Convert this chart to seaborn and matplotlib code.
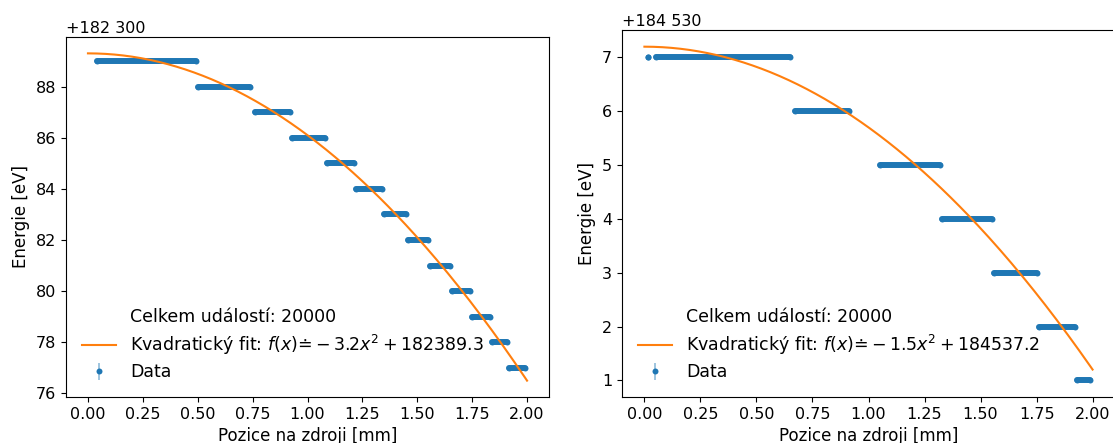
import numpy as np
import seaborn as sns
import matplotlib
matplotlib.use("Agg")
import matplotlib.pyplot as plt
from matplotlib.ticker import ScalarFormatter

# ---- data -------------------------------------------------------------
total_events = 20000

# Left source: quantised energy levels [eV] and the position span [mm] of each level
levels_a = [182389, 182388, 182387, 182386, 182385, 182384, 182383,
            182382, 182381, 182380, 182379, 182378, 182377]
starts_a = [0.04, 0.50, 0.76, 0.93, 1.09, 1.22, 1.35, 1.46, 1.56, 1.66, 1.75, 1.84, 1.92]
ends_a   = [0.49, 0.74, 0.92, 1.08, 1.21, 1.34, 1.45, 1.55, 1.65, 1.74, 1.83, 1.91, 1.99]
fit_a = (-3.2, 182389.3)          # f(x) = a*x^2 + c
offset_a = 182300

# Right source (first entry is a lone event just before the first run)
levels_b = [184537, 184537, 184536, 184535, 184534, 184533, 184532, 184531]
starts_b = [0.015, 0.05, 0.67, 1.05, 1.33, 1.56, 1.76, 1.93]
ends_b   = [0.015, 0.65, 0.915, 1.32, 1.55, 1.75, 1.92, 1.99]
fit_b = (-1.5, 184537.2)
offset_b = 184530

x_label = "Pozice na zdroji [mm]"
y_label = "Energie [eV]"


class SpacedOffsetFormatter(ScalarFormatter):
    """Fixed offset printed with a space as the thousands separator."""
    def get_offset(self):
        return "+" + f"{int(self.offset):,}".replace(",", " ")


def draw_panel(ax, levels, starts, ends, fit, offset):
    blue, orange = "#1f77b4", "#ff7f0e"
    # each level is a dense run of events: draw it as a thick rounded bar
    ax.hlines(levels, starts, ends, color=blue, lw=4.3, capstyle="round", zorder=2)
    xs = np.ravel(np.column_stack([starts, ends]))
    ys = np.repeat(levels, 2)
    eb = ax.errorbar(xs, ys, yerr=0.0, fmt="o", ms=4.3, mew=0, color=blue,
                     ecolor=blue, elinewidth=1.2, label="Data", zorder=2)
    eb.lines[2][0].set_alpha(0.5)

    a, c = fit
    xf = np.linspace(0, 2, 200)
    fit_label = f"Kvadratický fit: $f(x)≐-{abs(a):.1f}x^2+{c:.1f}$"
    sns.lineplot(x=xf, y=a * xf ** 2 + c, ax=ax, color=orange, lw=1.5, zorder=3,
                 label=fit_label)
    count_label = f"Celkem událostí: {total_events}"
    ax.plot([], [], " ", label=count_label)

    handles, labels = ax.get_legend_handles_labels()
    order = [labels.index(l) for l in (count_label, fit_label, "Data")]
    ax.legend([handles[i] for i in order], [labels[i] for i in order],
              loc="lower left", frameon=False, fontsize=12.5, labelspacing=0.38)

    fmt = SpacedOffsetFormatter(useOffset=offset)
    ax.yaxis.set_major_formatter(fmt)
    ax.yaxis.get_offset_text().set_fontsize(11.5)
    ax.set_xticks(np.arange(0, 2.01, 0.25))
    ax.set_xlabel(x_label, fontsize=12)
    ax.set_ylabel(y_label, fontsize=12)
    ax.tick_params(labelsize=11.5)


fig = plt.figure(figsize=(11.13, 4.43), dpi=100)
W, H = 1113, 443
ax1 = fig.add_axes([66 / W, 1 - 397 / H, 483 / W, 360 / H])
ax2 = fig.add_axes([622 / W, 1 - 397 / H, 493 / W, 367 / H])

draw_panel(ax1, levels_a, starts_a, ends_a, fit_a, offset_a)
draw_panel(ax2, levels_b, starts_b, ends_b, fit_b, offset_b)

fig.savefig("out.png", dpi=100)
